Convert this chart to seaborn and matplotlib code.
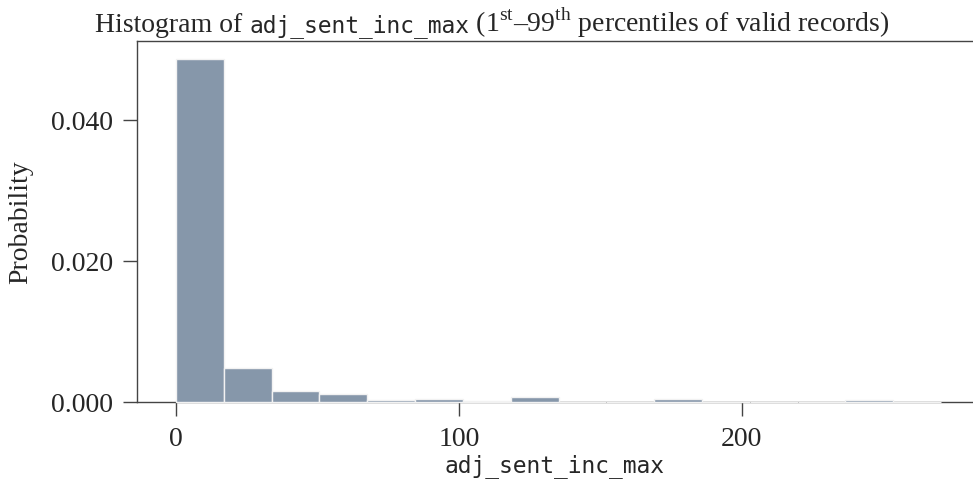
import numpy as np
import pandas as pd
import matplotlib
matplotlib.use("Agg")
import matplotlib.pyplot as plt
import seaborn as sns

# histogram bins (1st-99th percentile range)
bin_lo = 0.0
bin_hi = 270.5
n_bins = 16
probabilidade = [0.0486, 0.0048, 0.0016, 0.0011, 0.0003, 0.0004, 0.0001, 0.0007,
                 0.0, 0.0, 0.00045, 0.0, 0.0, 0.0, 0.00035, 0.0]
x_ticks = [0, 100, 200]
y_ticks = [0.0, 0.02, 0.04]

bordas = np.linspace(bin_lo, bin_hi, n_bins + 1)
centros = (bordas[:-1] + bordas[1:]) / 2
df = pd.DataFrame({"adj_sent_inc_max": centros, "prob": probabilidade})

sns.set_theme(style="ticks")
serif = ["Liberation Serif", "DejaVu Serif"]
mono = ["DejaVu Sans Mono"]
plt.rcParams["font.family"] = serif
plt.rcParams["mathtext.fontset"] = "custom"
plt.rcParams["mathtext.rm"] = "Liberation Serif"

fig = plt.figure(figsize=(9.73, 4.85), dpi=100)
ax = fig.add_axes([137 / 973, 1 - 403 / 485, 836 / 973, 361 / 485])

sns.histplot(data=df, x="adj_sent_inc_max", weights="prob", bins=n_bins,
             binrange=(bin_lo, bin_hi),
             color="#8697aa", alpha=1, edgecolor="#f2f2f2", linewidth=1, ax=ax)
for p in ax.patches:
    p.set_zorder(3)
    p.set_clip_on(False)

ax.set_xlim(-13.8, 281.8)
ax.set_ylim(0, 0.0512)
ax.set_xticks(x_ticks)
ax.set_yticks(y_ticks)
ax.set_yticklabels([f"{v:.3f}" for v in y_ticks])
ax.tick_params(labelsize=20, length=10, width=1, color="#444444", pad=7)

for lado in ["left", "top", "bottom"]:
    ax.spines[lado].set_color("#444444")
    ax.spines[lado].set_linewidth(1)
ax.spines["right"].set_visible(False)

ax.set_ylabel("Probability", fontsize=20)
ax.set_xlabel("adj_sent_inc_max", fontsize=16.5, family=mono)
ax.yaxis.set_label_coords(-0.124, 0.5)
ax.xaxis.set_label_coords(0.5, -0.141)

# title in pieces: serif text + monospace variable name
pedacos = [("Histogram of ", serif, 20),
           ("adj_sent_inc_max", mono, 16.5),
           (r" (1$^{\mathrm{st}}$–99$^{\mathrm{th}}$ percentiles of valid records)", serif, 20)]
renderer = fig.canvas.get_renderer()
textos = []
for s, fam, tam in pedacos:
    t = fig.text(0, 1 - 32 / 485, s, family=fam, fontsize=tam, ha="left", va="baseline")
    textos.append(t)
larguras = [t.get_window_extent(renderer).width for t in textos]
x = 492 - sum(larguras) / 2
for t, w in zip(textos, larguras):
    t.set_x(x / 973)
    x += w

fig.savefig("out.png", dpi=100)
